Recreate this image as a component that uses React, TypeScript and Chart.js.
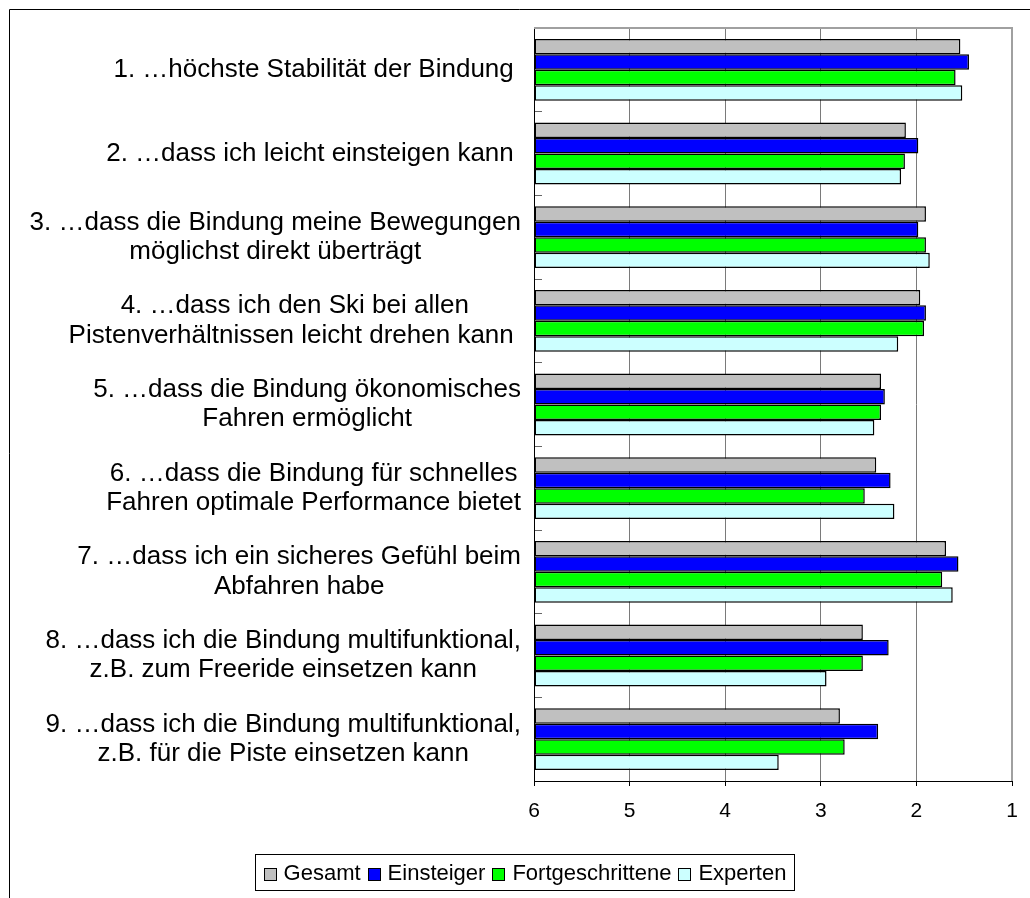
import React, { useEffect, useRef } from 'react';
import { Chart, registerables } from 'chart.js';

Chart.register(...registerables);

const FONT = "'Liberation Sans', Arial, Helvetica, sans-serif";

const categories: string[][] = [
  ['1. …höchste Stabilität der Bindung '],
  ['2. …dass ich leicht einsteigen kann '],
  ['3. …dass die Bindung meine Bewegungen', 'möglichst direkt überträgt'],
  ['4. …dass ich den Ski bei allen', 'Pistenverhältnissen leicht drehen kann '],
  ['5. …dass die Bindung ökonomisches', 'Fahren ermöglicht'],
  ['6. …dass die Bindung für schnelles', 'Fahren optimale Performance bietet'],
  ['7. …dass ich ein sicheres Gefühl beim', 'Abfahren habe'],
  ['8. …dass ich die Bindung multifunktional,', 'z.B. zum Freeride einsetzen kann'],
  ['9. …dass ich die Bindung multifunktional,', 'z.B. für die Piste einsetzen kann'],
];

const seriesNames = ['Gesamt', 'Einsteiger', 'Fortgeschrittene', 'Experten'];
const seriesColors = ['#C0C0C0', '#0000FF', '#00FF00', '#CCFFFF'];

const gesamt = [1.54, 2.11, 1.9, 1.96, 2.37, 2.42, 1.69, 2.56, 2.8];
const einsteiger = [1.45, 1.98, 1.98, 1.9, 2.33, 2.27, 1.56, 2.29, 2.4];
const fortgeschrittene = [1.59, 2.12, 1.9, 1.92, 2.37, 2.54, 1.73, 2.56, 2.75];
const experten = [1.52, 2.16, 1.86, 2.19, 2.44, 2.23, 1.62, 2.94, 3.44];

const xTickValues = [1, 2, 3, 4, 5, 6];

const seriesValues = [gesamt, einsteiger, fortgeschrittene, experten];

const catLabelPlugin = {
  id: 'catLabels',
  afterDraw(chart: any) {
    const ctx = chart.ctx as CanvasRenderingContext2D;
    const yScale = chart.scales.y;
    ctx.save();
    ctx.font = `26px ${FONT}`;
    ctx.fillStyle = '#000';
    ctx.textBaseline = 'middle';
    ctx.textAlign = 'center';
    const right = chart.chartArea.left - 13;
    const lh = 29.5;
    (chart.data.labels as any[]).forEach((lab, i) => {
      const lines: string[] = Array.isArray(lab) ? lab : [String(lab)];
      const w = Math.max(...lines.map((l) => ctx.measureText(l).width));
      const cx = right - w / 2;
      const cy = yScale.getPixelForValue(i);
      lines.forEach((l, k) => {
        ctx.fillText(l, cx, cy + (k - (lines.length - 1) / 2) * lh);
      });
    });
    ctx.restore();
  },
};

const framePlugin = {
  id: 'frame',
  beforeDatasetsDraw(chart: any) {
    const ctx = chart.ctx as CanvasRenderingContext2D;
    const a = chart.chartArea;
    ctx.save();
    ctx.strokeStyle = '#a0a0a0';
    ctx.lineWidth = 2;
    ctx.beginPath();
    ctx.moveTo(a.left, a.top);
    ctx.lineTo(a.right, a.top);
    ctx.lineTo(a.right, a.bottom);
    ctx.stroke();
    ctx.restore();
  },
  afterDraw(chart: any) {
    const ctx = chart.ctx as CanvasRenderingContext2D;
    ctx.save();
    // outer frame (only top and left visible)
    ctx.strokeStyle = '#000';
    ctx.lineWidth = 1;
    ctx.beginPath();
    ctx.moveTo(9.5, chart.height);
    ctx.lineTo(9.5, 9.5);
    ctx.lineTo(chart.width, 9.5);
    ctx.stroke();

    // legend
    const boxL = 255.5, boxR = 794.5, boxT = 854.5, boxB = 890.5;
    ctx.strokeStyle = '#000';
    ctx.strokeRect(boxL, boxT, boxR - boxL, boxB - boxT);
    ctx.font = `22px ${FONT}`;
    ctx.textBaseline = 'middle';
    ctx.textAlign = 'left';
    const sq = 12, sqGap = 8, itemGap = 7;
    const ds = chart.data.datasets as any[];
    const widths = ds.map((d) => ctx.measureText(d.label).width);
    const total = widths.reduce((s, w) => s + sq + sqGap + w, 0) + itemGap * (ds.length - 1);
    let x = (boxL + boxR) / 2 - total / 2;
    const cy = (boxT + boxB) / 2 + 1;
    ds.forEach((d, i) => {
      ctx.fillStyle = d.backgroundColor;
      ctx.fillRect(Math.round(x) + 0.5, Math.round(cy - sq / 2) + 0.5, sq, sq);
      ctx.strokeStyle = '#000';
      ctx.strokeRect(Math.round(x) + 0.5, Math.round(cy - sq / 2) + 0.5, sq, sq);
      ctx.fillStyle = '#000';
      ctx.fillText(d.label, x + sq + sqGap, cy);
      x += sq + sqGap + widths[i] + itemGap;
    });
    ctx.restore();
  },
};

export default function App() {
  const canvasRef = useRef<HTMLCanvasElement | null>(null);

  useEffect(() => {
    if (!canvasRef.current) return;
    const chart = new Chart(canvasRef.current, {
      type: 'bar',
      data: {
        labels: categories,
        datasets: seriesNames.map((name, i) => ({
          label: name,
          data: seriesValues[i],
          backgroundColor: seriesColors[i],
          borderColor: '#000',
          borderWidth: 1.5,
          borderSkipped: false,
          base: Math.max(...xTickValues),
          categoryPercentage: 0.74,
          barPercentage: 1.0,
        })),
      },
      options: {
        indexAxis: 'y',
        animation: false,
        responsive: false,
        maintainAspectRatio: false,
        layout: { padding: { top: 28, right: 18, bottom: 74, left: 0 } },
        plugins: {
          legend: { display: false },
          tooltip: { enabled: false },
        },
        scales: {
          x: {
            type: 'linear',
            position: 'bottom',
            min: Math.min(...xTickValues),
            max: Math.max(...xTickValues),
            reverse: true,
            afterBuildTicks: (s: any) => {
              s.ticks = xTickValues.map((v) => ({ value: v }));
            },
            ticks: {
              color: '#000',
              font: { family: FONT, size: 21 },
              padding: 13,
              callback: (v: any) => String(v),
            },
            grid: {
              color: (c: any) => (c.tick && c.tick.value === 1 ? 'rgba(0,0,0,0)' : '#7a7a7a'),
              tickColor: '#000',
              tickLength: 5,
              lineWidth: 1,
            },
            border: { display: true, color: '#000', width: 1 },
            afterFit: (s: any) => {
              s.height = 43;
            },
          },
          y: {
            type: 'category',
            position: 'left',
            ticks: { display: false },
            grid: {
              display: true,
              drawOnChartArea: false,
              drawTicks: true,
              tickLength: -8,
              tickColor: '#666',
              offset: true,
            },
            border: { display: true, color: '#000', width: 1 },
            afterFit: (s: any) => {
              s.width = 534;
            },
          },
        },
      },
      plugins: [framePlugin, catLabelPlugin],
    } as any);
    return () => chart.destroy();
  }, []);

  return (
    <div style={{ position: 'fixed', left: 0, top: 0, width: 1030, height: 898, background: '#fff' }}>
      <canvas ref={canvasRef} width={1030} height={898} style={{ display: 'block', width: 1030, height: 898 }} />
    </div>
  );
}
